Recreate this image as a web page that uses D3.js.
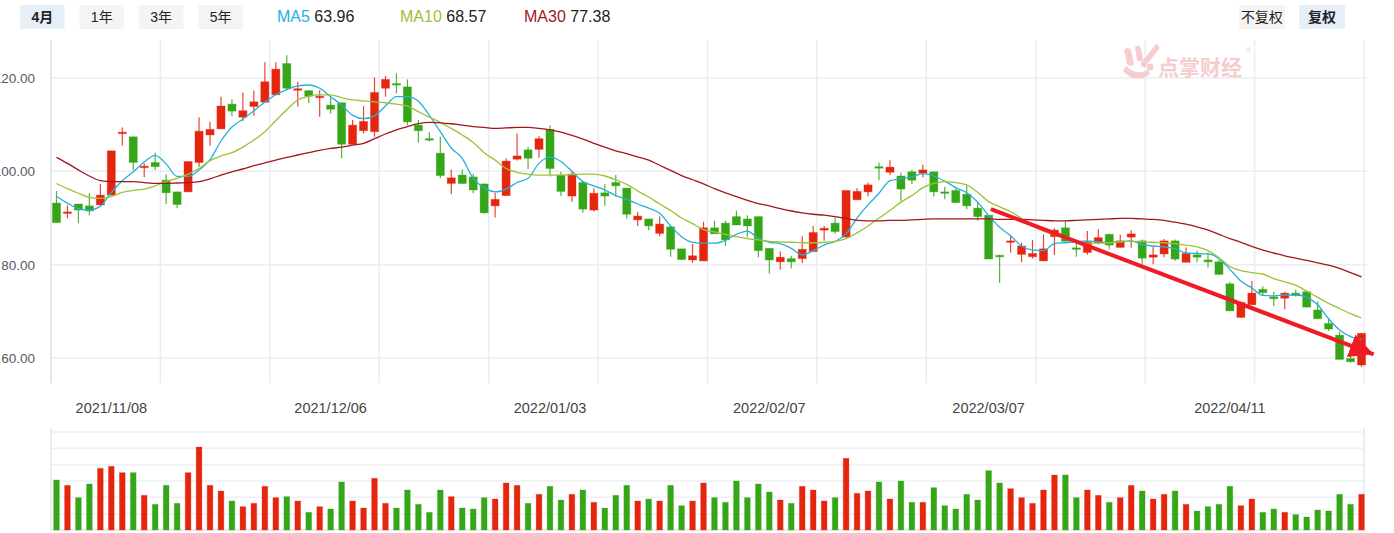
<!DOCTYPE html>
<html>
<head>
<meta charset="utf-8">
<script src="https://cdn.jsdelivr.net/npm/d3@7/dist/d3.min.js"></script>
<style>
  body { margin: 0; background: #fff; }
  svg { display: block; font-family: "Liberation Sans", Arial, "Noto Sans CJK SC", sans-serif; }
</style>
</head>
<body>
<div id="canvas"></div>
<script>
// daily candles, oldest first
var opens = [93.2,91.0,93.0,92.6,92.8,94.9,108.1,107.4,100.9,101.9,98.1,95.6,95.6,101.9,107.8,109.1,114.4,111.6,113.9,114.8,
  116.4,123.1,117.4,117.3,115.9,114.2,114.7,105.8,108.7,108.5,117.8,118.8,118.1,109.9,107.0,103.9,97.4,99.2,98.8,97.3,
  92.6,94.8,102.6,104.6,104.7,109.0,99.2,94.7,97.6,91.7,95.4,97.6,96.4,89.6,89.8,86.7,88.1,83.4,81.0,80.8,
  87.9,88.9,90.3,89.8,90.3,83.5,80.6,81.3,81.3,82.8,87.4,88.9,85.9,93.9,95.6,101.0,99.8,99.0,99.9,99.6,
  99.9,95.6,95.9,95.1,92.1,90.6,82.0,84.8,82.2,81.7,80.8,86.0,87.9,83.6,82.6,84.7,86.5,83.7,85.9,85.1,
  81.6,82.3,85.1,80.5,82.1,81.0,80.6,75.9,68.7,71.4,74.7,73.1,72.8,73.9,74.2,70.3,67.4,64.9,59.9,58.5];
var highs = [95.8,92.7,93.0,95.3,97.3,104.4,109.4,107.4,101.7,104.0,99.4,95.6,102.1,111.6,110.6,116.0,115.4,116.9,117.3,123.4,
  123.4,124.9,119.2,117.3,117.4,115.9,114.7,111.0,114.0,120.1,120.4,121.0,119.7,111.0,108.4,107.4,100.4,100.4,99.5,97.4,
  95.4,102.8,108.1,105.2,107.5,109.9,99.9,99.9,98.0,96.4,97.3,99.2,96.4,91.3,89.8,90.3,88.3,83.4,84.4,89.2,
  89.4,89.4,91.6,90.6,90.3,83.5,82.9,81.9,86.1,88.3,88.3,90.1,95.9,96.4,97.6,101.9,102.4,99.7,100.3,101.4,
  99.9,96.7,96.4,96.9,93.5,90.6,82.1,86.4,84.7,85.3,86.5,87.8,89.4,84.9,87.2,87.6,86.7,86.4,87.4,85.4,
  83.8,85.5,85.4,83.7,83.0,82.6,81.0,76.3,72.1,76.5,75.4,74.2,74.2,74.6,74.4,72.1,68.4,65.6,61.4,65.3];
var lows = [89.0,89.9,88.9,90.6,92.8,94.9,105.5,100.3,98.8,100.3,93.0,92.1,95.6,101.0,105.5,109.1,111.8,110.8,111.9,114.8,
  116.4,117.5,113.9,114.6,111.7,112.4,102.8,105.8,108.1,107.4,116.0,116.7,109.9,106.1,106.4,98.5,95.1,97.3,95.3,90.9,
  90.1,94.8,102.3,100.5,102.9,98.9,94.7,93.5,91.1,91.4,92.6,94.6,89.9,88.3,87.4,86.1,81.7,81.0,80.4,80.8,
  86.6,84.0,88.5,85.9,81.6,78.1,78.9,79.2,80.3,82.8,85.1,86.6,85.9,93.9,94.6,98.1,99.2,93.7,97.3,98.7,
  94.6,94.0,93.2,91.9,89.4,81.2,76.1,82.6,80.5,81.3,80.8,82.1,85.0,81.7,82.1,84.4,83.3,83.7,83.6,80.1,
  80.1,81.6,80.8,80.5,80.5,79.4,77.9,70.1,68.7,71.4,73.3,71.1,70.4,73.2,70.9,68.4,65.8,59.7,59.0,58.1];
var closes = [89.0,91.3,91.7,91.5,94.9,104.4,108.4,101.9,101.1,101.0,95.4,92.9,102.1,108.6,109.0,114.0,112.9,113.0,114.9,119.2,
  121.9,117.8,117.7,116.1,116.1,113.3,105.8,109.9,110.7,116.9,119.7,118.6,110.6,108.7,106.7,99.1,98.6,97.4,96.0,91.1,
  94.0,102.2,103.3,102.8,107.0,100.6,95.7,99.4,91.9,95.3,94.7,96.9,90.8,90.4,88.3,88.7,83.3,81.1,81.9,87.9,
  86.6,85.3,88.5,88.3,83.0,81.0,81.6,80.6,83.3,86.9,87.8,87.1,95.9,95.7,97.1,100.7,100.9,96.2,98.1,100.3,
  95.6,95.5,93.3,92.6,90.3,81.2,81.9,85.1,84.0,82.4,83.4,87.4,85.0,83.4,84.9,85.8,84.2,85.1,86.6,81.4,
  82.1,85.1,81.2,82.4,81.6,80.6,77.9,70.1,71.9,73.9,74.0,72.7,73.9,73.4,70.9,68.4,66.2,59.7,59.2,65.3];
var volumes = [150,134,97,138,185,191,172,172,104,77,134,80,172,249,134,117,87,70,80,131,
  97,100,87,53,70,63,144,87,66,155,80,66,120,77,53,120,100,66,63,97,
  93,141,134,80,107,131,90,107,120,83,66,104,134,87,93,87,134,73,87,141,
  97,83,147,97,138,114,90,80,131,120,87,97,215,110,117,144,93,147,83,83,
  127,73,63,107,90,178,141,124,97,80,120,165,165,97,120,104,83,97,134,117,
  93,107,117,77,57,70,77,131,73,93,53,63,53,46,39,60,57,107,77,107];

// moving average lines as drawn on the chart
var ma5 = [94.6,93.2,92.0,91.7,92.5,95.5,98.0,99.9,102.0,103.4,101.6,98.9,98.9,100.3,102.5,106.5,109.5,111.2,113.0,114.8,
  116.4,117.5,118.3,118.5,117.8,116.0,114.2,112.0,111.3,111.9,114.0,116.0,116.0,115.0,112.0,108.5,105.0,102.8,98.5,96.5,
  95.6,96.2,97.6,98.5,101.7,103.1,102.1,100.0,97.8,96.9,96.0,94.8,94.0,93.0,92.1,91.0,88.3,86.0,84.8,84.6,
  84.6,85.2,86.5,87.2,85.6,84.8,84.5,83.5,82.1,83.0,84.2,85.0,86.6,90.0,92.8,95.3,98.0,98.4,98.8,99.5,
  99.0,97.9,96.5,95.4,93.4,90.5,88.0,86.2,84.0,83.1,83.0,84.5,84.7,84.9,85.1,84.9,84.7,84.9,85.1,84.3,
  84.0,83.8,83.4,82.5,82.4,82.3,81.3,79.0,76.5,75.0,73.4,73.3,73.5,73.5,73.0,71.4,68.4,66.0,64.6,63.96];
var ma10 = [97.4,96.3,95.3,94.4,94.2,94.6,95.5,95.9,96.2,96.9,97.8,98.5,99.4,100.6,102.3,103.3,104.0,105.2,106.7,108.5,
  110.9,113.2,115.3,116.1,116.4,116.4,115.8,115.3,115.1,114.9,114.7,114.4,114.0,112.8,111.6,110.5,109.2,107.8,106.2,104.0,
  102.4,100.6,99.8,99.4,99.2,99.2,99.2,99.3,99.4,99.4,99.0,98.2,97.2,95.8,94.5,93.0,91.6,90.0,88.8,87.5,
  87.0,86.5,86.0,85.6,85.3,85.0,84.9,84.8,84.7,84.7,84.8,85.0,85.6,86.8,88.3,90.0,91.6,93.4,94.8,96.5,
  97.4,97.8,97.6,97.1,95.5,93.5,92.4,91.4,89.9,88.3,87.2,86.4,85.7,85.0,84.6,84.6,84.7,84.9,85.0,84.9,
  84.8,84.7,84.5,84.2,83.8,83.0,81.5,79.6,78.7,78.3,78.0,77.0,76.3,75.6,74.3,73.0,71.7,70.6,69.5,68.57];
var ma30 = [103.0,101.7,100.3,99.0,98.0,97.8,97.8,97.8,97.6,97.4,97.4,97.5,97.6,97.8,98.4,99.2,99.9,100.5,101.2,101.8,
  102.4,103.0,103.5,104.0,104.5,104.9,105.2,105.6,106.0,107.0,108.0,108.9,109.6,110.2,110.5,110.4,110.2,109.9,109.6,109.4,
  109.2,109.3,109.4,109.4,109.2,108.9,108.4,107.7,106.9,106.0,105.2,104.4,103.8,103.1,102.4,101.3,100.2,99.1,98.2,97.3,
  96.3,95.4,94.6,93.8,93.1,92.6,92.0,91.5,91.1,90.8,90.6,90.3,89.9,89.5,89.4,89.4,89.5,89.5,89.6,89.7,
  89.8,89.8,89.8,89.8,89.8,89.8,89.7,89.7,89.7,89.6,89.5,89.4,89.4,89.5,89.6,89.7,89.8,89.9,89.9,89.8,
  89.7,89.5,89.1,88.7,88.1,87.4,86.5,85.6,84.8,83.9,83.1,82.5,81.9,81.4,80.9,80.4,79.9,79.2,78.3,77.38];

var priceTicks = [60, 80, 100, 120];
var dateTickIndex = [5, 25, 45, 65, 85, 107];
var dateTickLabels = ["2021/11/08", "2021/12/06", "2022/01/03", "2022/02/07", "2022/03/07", "2022/04/11"];
var periodButtons = ["4月", "1年", "3年", "5年"];
var adjustButtons = ["不复权", "复权"];
var maNames = ["MA5", "MA10", "MA30"];
var maLatest = [63.96, 68.57, 77.38];
// drawn trend arrow: [candle index, price]
var trendFrom = [85.2, 91.9];
var trendTo = [120.1, 60.8];

var RED = "#e5260f", GREEN = "#35a618";
var maColors = ["#25b0dc", "#9cc236", "#a3161b"];

function initializeChart() {
  var svg = d3.select("#canvas").append("svg").attr("width", 1394).attr("height", 533);
  drawHeader(svg);
  drawPricePanel(svg);
  drawVolumePanel(svg);
}

function drawHeader(svg) {
  var pb = d3.scaleBand().domain(periodButtons).range([20, 243]).paddingInner(0.25);
  var g = svg.append("g").attr("class", "periods");
  g.selectAll("rect").data(periodButtons).enter().append("rect")
    .attr("x", d => pb(d)).attr("y", 5).attr("width", pb.bandwidth()).attr("height", 24)
    .attr("fill", (d, i) => i === 0 ? "#e6eef8" : "#f4f4f4");
  g.selectAll("text").data(periodButtons).enter().append("text")
    .attr("x", d => pb(d) + pb.bandwidth() / 2).attr("y", 22)
    .attr("text-anchor", "middle").style("font-size", "14px")
    .style("font-weight", (d, i) => i === 0 ? "bold" : "normal")
    .attr("fill", "#222").text(d => d);

  var maX = d3.scaleLinear().domain([0, 1]).range([277, 400]);
  var legend = svg.append("g").selectAll("text").data(maNames).enter().append("text")
    .attr("x", (d, i) => maX(i) + (i === 2 ? 1 : 0)).attr("y", 22).style("font-size", "16px");
  legend.append("tspan").attr("fill", (d, i) => maColors[i]).text(d => d);
  legend.append("tspan").attr("fill", "#222").text((d, i) => " " + maLatest[i].toFixed(2));

  var ab = d3.scaleBand().domain(adjustButtons).range([1239, 1345]).paddingInner(0.24);
  var a = svg.append("g").attr("class", "adjust");
  a.selectAll("rect").data(adjustButtons).enter().append("rect")
    .attr("x", d => ab(d)).attr("y", 5).attr("width", ab.bandwidth()).attr("height", 24)
    .attr("fill", (d, i) => i === 1 ? "#e6eef8" : "#f4f4f4");
  a.selectAll("text").data(adjustButtons).enter().append("text")
    .attr("x", d => ab(d) + ab.bandwidth() / 2).attr("y", 22)
    .attr("text-anchor", "middle").style("font-size", "14px")
    .style("font-weight", (d, i) => i === 1 ? "bold" : "normal")
    .attr("fill", "#222").text(d => d);
}

function drawPricePanel(svg) {
  var x = d3.scaleBand().domain(d3.range(closes.length)).range([51, 1367]);
  var xc = i => x(i) + x.bandwidth() / 2;
  var y = d3.scaleLinear().domain([60, 120]).range([358, 78]);
  var top = 40, bottom = 383;
  var xg = d3.scaleLinear().domain([0, 12]).range([51, 1364]);

  // grid
  svg.append("g").selectAll("line").data(priceTicks).enter().append("line")
    .attr("x1", 51).attr("x2", 1367).attr("y1", d => y(d)).attr("y2", d => y(d))
    .attr("stroke", "#eaeef4").attr("stroke-width", 1.5);
  svg.append("g").selectAll("line").data(d3.range(13)).enter().append("line")
    .attr("x1", d => xg(d)).attr("x2", d => xg(d)).attr("y1", top).attr("y2", bottom)
    .attr("stroke", d => d === 0 ? "#d9dfec" : "#e8edf3").attr("stroke-width", 1.5);

  // y labels, right-aligned against the left edge like the original
  svg.append("g").selectAll("text").data(priceTicks).enter().append("text")
    .attr("x", 35).attr("y", d => y(d) + 5).attr("text-anchor", "end")
    .style("font-size", "13.5px").attr("fill", "#555b66").text(d => d.toFixed(2));

  // date labels
  svg.append("g").selectAll("text").data(dateTickIndex).enter().append("text")
    .attr("x", d => xc(d)).attr("y", 413).attr("text-anchor", "middle")
    .style("font-size", "14.5px").attr("fill", "#444").text((d, i) => dateTickLabels[i]);

  drawWatermark(svg);

  // candles
  var idx = d3.range(closes.length);
  var bw = x.bandwidth() * 0.74;
  var color = i => closes[i] >= opens[i] ? RED : GREEN;
  var candles = svg.append("g").selectAll("g.candle").data(idx).enter().append("g").attr("class", "candle");
  candles.append("line")
    .attr("x1", d => xc(d)).attr("x2", d => xc(d))
    .attr("y1", d => y(highs[d])).attr("y2", d => y(lows[d]))
    .attr("stroke", color).attr("stroke-width", 1.2).attr("stroke-opacity", 0.85);
  candles.append("rect")
    .attr("x", d => xc(d) - bw / 2).attr("width", bw)
    .attr("y", d => y(Math.max(opens[d], closes[d])))
    .attr("height", d => Math.max(1.5, Math.abs(y(opens[d]) - y(closes[d]))))
    .attr("fill", color).attr("stroke", color).attr("stroke-opacity", 0.35).attr("stroke-width", 1);

  // moving averages
  var line = d3.line().x((d, i) => xc(i)).y(d => y(d)).curve(d3.curveMonotoneX);
  [ma5, ma10, ma30].forEach((series, k) => {
    svg.append("path").datum(series).attr("d", line)
      .attr("fill", "none").attr("stroke", maColors[k]).attr("stroke-width", 1.3);
  });

  // trend arrow
  var defs = svg.append("defs");
  defs.append("marker").attr("id", "trend-head")
    .attr("markerUnits", "userSpaceOnUse")
    .attr("markerWidth", 26).attr("markerHeight", 24)
    .attr("refX", 24).attr("refY", 12).attr("orient", "auto")
    .attr("viewBox", "0 0 26 24")
    .append("path").attr("d", "M 0 0 L 24 12 L 0 24 z").attr("fill", "#ef1c27");
  svg.append("line")
    .attr("x1", xc(0) + trendFrom[0] * x.step()).attr("y1", y(trendFrom[1]))
    .attr("x2", xc(0) + trendTo[0] * x.step()).attr("y2", y(trendTo[1]))
    .attr("stroke", "#ef1c27").attr("stroke-width", 4)
    .attr("marker-end", "url(#trend-head)");
}

function drawWatermark(svg) {
  var wm = svg.append("g").attr("fill", "#f4c8ca").attr("opacity", 0.9);
  wm.append("path").attr("d", "M1124,50 q4,-4 7,0 l3,14 q-3,4 -7,0 z");
  wm.append("path").attr("d", "M1135,47 q4,-3 6,1 l2,12 q-3,3 -6,0 z");
  wm.append("path").attr("d", "M1156,44 q4,1 3,5 l-14,18 q-4,1 -4,-4 z");
  wm.append("path").attr("d", "M1126,66 q10,10 22,4 q3,3 0,6 q-14,7 -25,-5 z");
  wm.append("circle").attr("cx", 1150).attr("cy", 67).attr("r", 3.5);
  wm.append("text").attr("x", 1158).attr("y", 75).style("font-size", "21px").style("font-weight", "bold")
    .style("font-family", "'Noto Sans CJK SC', sans-serif").text("点掌财经");
  wm.append("text").attr("x", 1246).attr("y", 53).style("font-size", "7px").text("®");
}

function drawVolumePanel(svg) {
  var x = d3.scaleBand().domain(d3.range(volumes.length)).range([51, 1367]);
  var xc = i => x(i) + x.bandwidth() / 2;
  var v = d3.scaleLinear().domain([0, 294]).range([530, 432]);
  var vTicks = d3.range(0, 295, 49);

  svg.append("g").selectAll("line").data(vTicks).enter().append("line")
    .attr("x1", 51).attr("x2", 1364).attr("y1", d => v(d)).attr("y2", d => v(d))
    .attr("stroke", d => d === 0 ? "#dfe4ee" : "#edf0f5").attr("stroke-width", 1.5);
  svg.append("g").selectAll("line").data([51, 1364]).enter().append("line")
    .attr("x1", d => d).attr("x2", d => d).attr("y1", 428).attr("y2", 531)
    .attr("stroke", "#e3e8f0").attr("stroke-width", 1.5);

  var w = x.bandwidth() * 0.52;
  svg.append("g").selectAll("rect").data(d3.range(volumes.length)).enter().append("rect")
    .attr("x", d => xc(d) - w / 2).attr("width", w)
    .attr("y", d => v(volumes[d])).attr("height", d => v(0) - v(volumes[d]))
    .attr("fill", d => closes[d] >= opens[d] ? RED : GREEN)
    .attr("stroke", d => closes[d] >= opens[d] ? RED : GREEN)
    .attr("stroke-opacity", 0.3).attr("stroke-width", 1);
}

initializeChart();
</script>
</body>
</html>
